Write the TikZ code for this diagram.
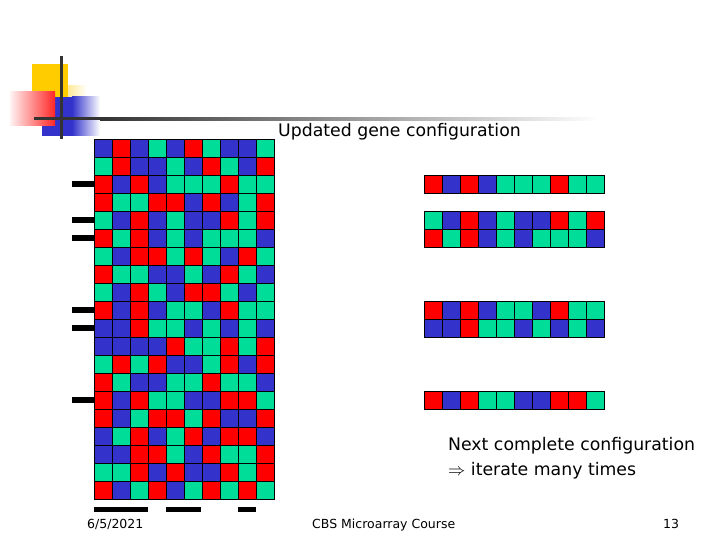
\documentclass[tikz,border=0pt]{standalone}
\usepackage{fontspec}
\setmainfont{DejaVu Sans}
\usetikzlibrary{positioning}
\definecolor{cR}{HTML}{FF0000}
\definecolor{cB}{HTML}{3333CC}
\definecolor{cG}{HTML}{00DD99}
\definecolor{logoyellow}{HTML}{FFCC00}
\definecolor{logoline}{HTML}{333333}
\newcommand{\generow}[3]{%
  \edef\rowlist{#3}%
  \foreach \c [count=\i from 0] in \rowlist
    \filldraw[cell, fill=c\c] (#1+18*\i,#2) rectangle ++(18,18);}
\tikzset{
  cell/.style={draw=black, line width=0.8pt},
  marker/.style={fill=black},
  label/.style={anchor=base west, inner sep=0pt, font=\fontsize{17.3}{21}\selectfont},
  footer/.style={anchor=base west, inner sep=0pt, font=\fontsize{12.5}{15}\selectfont}
}

\begin{document}
\begin{tikzpicture}[x=1pt, y=-1pt]
            \useasboundingbox (0,0) rectangle (720,540);

            % logo
            \fill[logoyellow] (32,64) rectangle (68,97);
            \fill[left color=logoyellow!40, right color=white] (68,86) rectangle (87,97);
            \fill[cB] (42,97) rectangle (72,136);
            \fill[left color=cB, right color=white] (72,97) rectangle (100,136);
            \fill[left color=cR!5, right color=cR!85] (10,92) rectangle (55,126);
            \draw[logoline, line width=3pt] (61,56) -- (61,139);
            \draw[logoline, line width=3pt] (34,119) -- (100,119);
            \fill[left color=logoline, right color=white] (100,117.5) rectangle (600,120.5);

            % population of gene configurations
            \foreach \row [count=\k from 0] in {
                {B,R,B,G,B,R,G,B,B,G},
                {G,R,B,B,G,B,R,G,B,R},
                {R,B,R,B,G,G,G,R,G,G},
                {R,G,G,R,R,B,R,B,G,R},
                {G,B,R,B,G,B,B,R,G,R},
                {R,G,R,B,G,B,G,G,G,B},
                {G,B,R,R,G,R,G,B,R,G},
                {R,G,G,B,B,G,B,R,G,B},
                {G,B,R,G,B,R,R,G,B,G},
                {R,B,R,B,G,G,B,R,G,G},
                {B,B,R,G,G,B,G,B,G,B},
                {B,B,B,B,R,G,G,R,G,R},
                {G,R,G,R,B,B,G,R,B,R},
                {R,G,B,B,G,G,R,G,G,B},
                {R,B,R,G,G,B,B,R,R,G},
                {R,B,G,R,R,G,R,B,B,R},
                {B,G,R,B,G,R,B,R,R,B},
                {B,B,R,R,G,B,R,G,G,R},
                {G,G,R,B,R,B,B,R,G,R},
                {R,B,G,R,B,G,R,G,R,G}}
              \generow{94}{139+18*\k}{\row};

            % selected rows
            \foreach \k in {2,4,5,9,10,14}
              \fill[marker] (72,145+18*\k) rectangle (94,151+18*\k);
            \fill[marker] (94,507) rectangle (148,512);
            \fill[marker] (166,507) rectangle (201,512);
            \fill[marker] (238,507) rectangle (256,512);

            % updated configuration
            \generow{424}{175}{R,B,R,B,G,G,G,R,G,G}
            \generow{424}{211}{G,B,R,B,G,B,B,R,G,R}
            \generow{424}{229}{R,G,R,B,G,B,G,G,G,B}
            \generow{424}{301}{R,B,R,B,G,G,B,R,G,G}
            \generow{424}{319}{B,B,R,G,G,B,G,B,G,B}
            \generow{424}{391}{R,B,R,G,G,B,B,R,R,G}

            \node[label] (title) at (278,137) {Updated gene configuration};
            \node[label] (next) at (448,450) {Next complete configuration};
            \node[label] (iterate) at (448,475) {$\Rightarrow$ iterate many times};

            \node[footer] (date) at (87,528) {6/5/2021};
            \node[footer] (course) at (312,528) {CBS Microarray Course};
            \node[footer] (page) at (663,528) {13};
\end{tikzpicture}
\end{document}
